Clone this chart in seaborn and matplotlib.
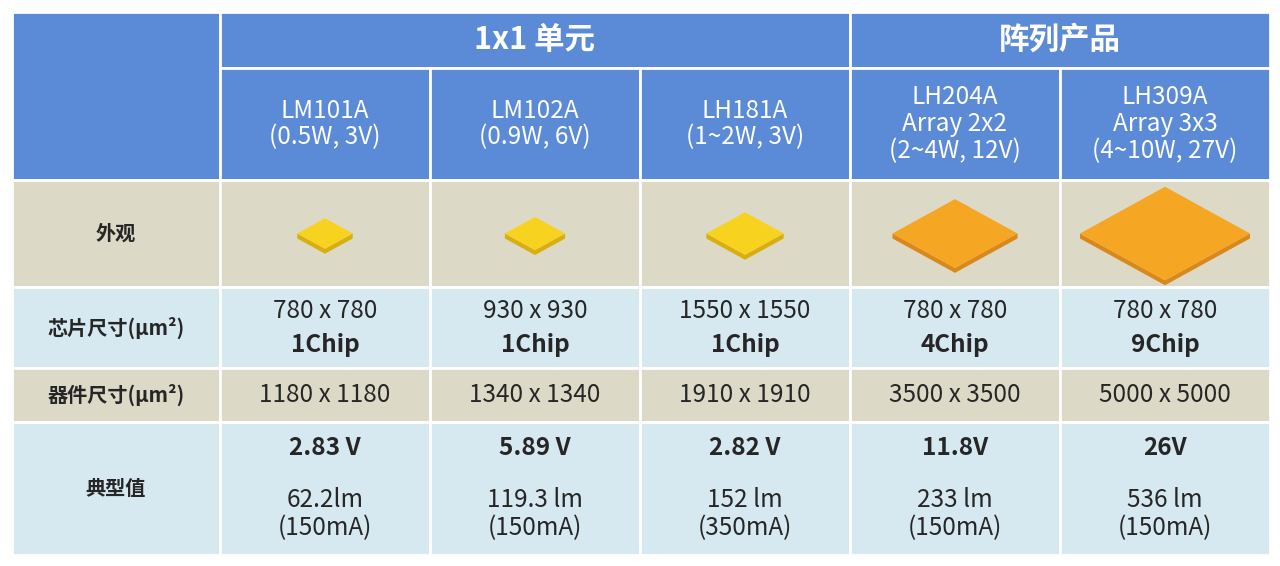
import matplotlib.pyplot as plt
import seaborn as sns
from matplotlib.patches import Rectangle, Polygon

sns.set_style('white')
plt.rcParams['font.family'] = ['Noto Sans CJK SC', 'DejaVu Sans']

# table data
group_labels = ['1x1 单元', '阵列产品']
group_spans = [3, 2]
models = ['LM101A\n(0.5W, 3V)', 'LM102A\n(0.9W, 6V)', 'LH181A\n(1~2W, 3V)',
          'LH204A\nArray 2x2\n(2~4W, 12V)', 'LH309A\nArray 3x3\n(4~10W, 27V)']
row_labels = ['外观', '芯片尺寸(μm²)', '器件尺寸(μm²)', '典型值']
chip_size = ['780 x 780', '930 x 930', '1550 x 1550', '780 x 780', '780 x 780']
chip_count = ['1Chip', '1Chip', '1Chip', '4Chip', '9Chip']
device_size = [1180, 1340, 1910, 3500, 5000]
voltage = ['2.83 V', '5.89 V', '2.82 V', '11.8V', '26V']
flux = ['62.2lm\n(150mA)', '119.3 lm\n(150mA)', '152 lm\n(350mA)', '233 lm\n(150mA)', '536 lm\n(150mA)']
is_array = [False, False, False, True, True]

blue = '#5b8ad6'
beige = '#ddd9c7'
light = '#d6e8f0'

col_x = [12, 220, 430, 640, 850, 1060, 1270]
row_y = [12, 68, 180, 287, 368, 422, 555]

fig = plt.figure(figsize=(12.8, 5.66), dpi=100)
ax = fig.add_axes([0, 0, 1, 1])
ax.set_xlim(0, 1280)
ax.set_ylim(566, 0)
ax.axis('off')


def cell(x0, x1, y0, y1, color):
    ax.add_patch(Rectangle((x0, y0), x1 - x0, y1 - y0, facecolor=color,
                           edgecolor='white', linewidth=2))


# header
cell(col_x[0], col_x[1], row_y[0], row_y[2], blue)
c = 1
for lab, span in zip(group_labels, group_spans):
    cell(col_x[c], col_x[c + span], row_y[0], row_y[1], blue)
    ax.text((col_x[c] + col_x[c + span]) / 2, (row_y[0] + row_y[1]) / 2, lab,
            color='white', fontsize=22, fontweight='bold', ha='center', va='center')
    c += span
for i, m in enumerate(models):
    cell(col_x[i + 1], col_x[i + 2], row_y[1], row_y[2], blue)
    ax.text((col_x[i + 1] + col_x[i + 2]) / 2, (row_y[1] + row_y[2]) / 2, m,
            color='white', fontsize=17.5, ha='center', va='center', linespacing=1.05)

# body rows
row_colors = [beige, light, beige, light]
for r, (lab, colr) in enumerate(zip(row_labels, row_colors)):
    y0, y1 = row_y[r + 2], row_y[r + 3]
    for i in range(6):
        cell(col_x[i], col_x[i + 1], y0, y1, colr)
    ax.text((col_x[0] + col_x[1]) / 2, (y0 + y1) / 2, lab, fontsize=14.5,
            fontweight='bold', ha='center', va='center')

for i in range(5):
    cx = (col_x[i + 1] + col_x[i + 2]) / 2
    # appearance: isometric chip
    cy = (row_y[2] + row_y[3]) / 2
    hw = 10 + device_size[i] * 0.015
    hh = hw * 0.55
    t = 5
    top_c = '#f5a623' if is_array[i] else '#f7d320'
    side_c = '#d9891a' if is_array[i] else '#d9ae10'
    ax.add_patch(Polygon([(cx - hw, cy), (cx, cy + hh), (cx, cy + hh + t), (cx - hw, cy + t)],
                         facecolor=side_c, edgecolor='none'))
    ax.add_patch(Polygon([(cx + hw, cy), (cx, cy + hh), (cx, cy + hh + t), (cx + hw, cy + t)],
                         facecolor=side_c, edgecolor='none'))
    ax.add_patch(Polygon([(cx - hw, cy), (cx, cy - hh), (cx + hw, cy), (cx, cy + hh)],
                         facecolor=top_c, edgecolor='none'))
    # chip size
    ax.text(cx, 311, chip_size[i], fontsize=17.5, ha='center', va='center')
    ax.text(cx, 345, chip_count[i], fontsize=17.5, fontweight='bold', ha='center', va='center')
    # device size
    ax.text(cx, (row_y[4] + row_y[5]) / 2, f'{device_size[i]} x {device_size[i]}',
            fontsize=17.5, ha='center', va='center')
    # typical
    ax.text(cx, 448, voltage[i], fontsize=17.5, fontweight='bold', ha='center', va='center')
    ax.text(cx, 514, flux[i], fontsize=17.5, ha='center', va='center', linespacing=1.1)

fig.savefig('out.png', dpi=100)
